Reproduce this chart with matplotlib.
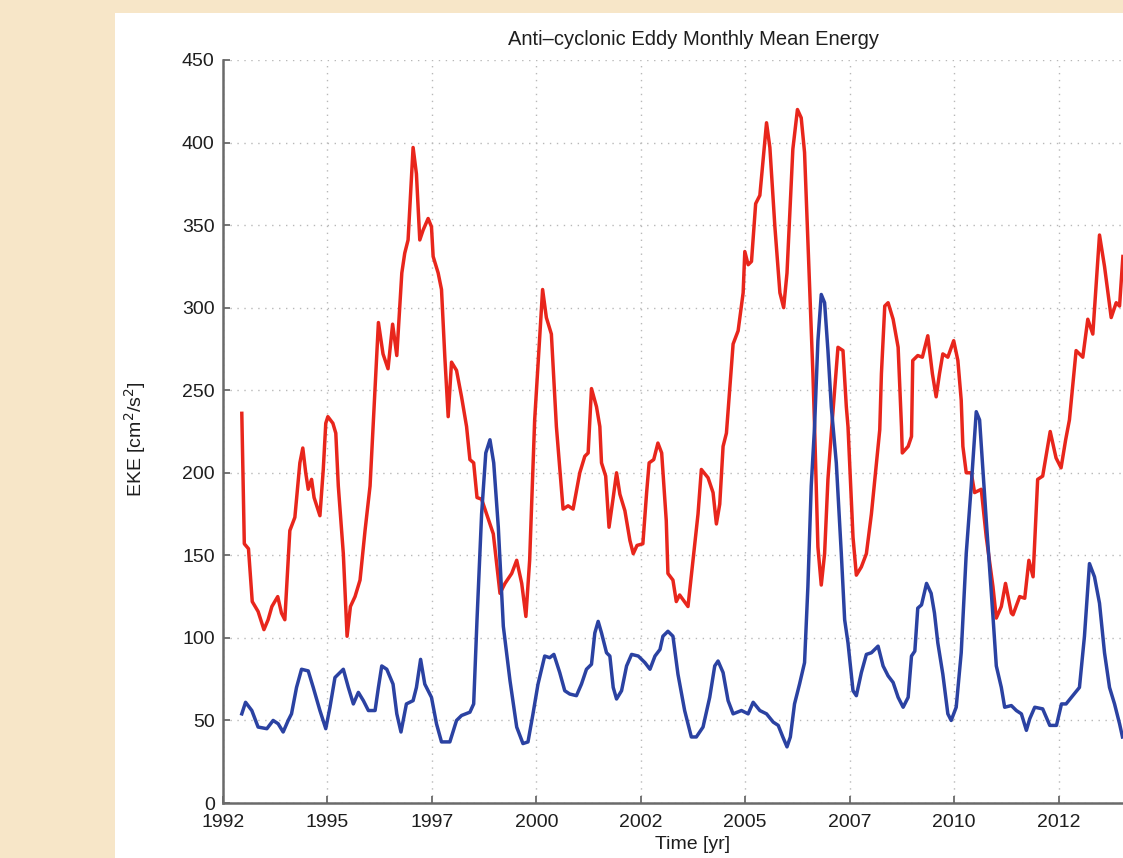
import numpy as np
import matplotlib
matplotlib.use("Agg")
import matplotlib.pyplot as plt
from matplotlib.patches import Rectangle

# anti-cyclonic eddy energy (year, EKE cm^2/s^2)
red_t = [1992.95, 1993.01, 1993.11, 1993.20, 1993.34, 1993.48, 1993.58, 1993.67, 1993.81, 1993.90,
         1993.98, 1994.10, 1994.22, 1994.34, 1994.41, 1994.48, 1994.54, 1994.62, 1994.68, 1994.82,
         1994.90, 1994.96, 1995.01, 1995.13, 1995.20, 1995.26, 1995.38, 1995.47, 1995.55, 1995.66,
         1995.78, 1995.90, 1996.02, 1996.10, 1996.22, 1996.33, 1996.45, 1996.56, 1996.66, 1996.78,
         1996.85, 1996.93, 1997.05, 1997.13, 1997.21, 1997.29, 1997.41, 1997.49, 1997.53, 1997.65,
         1997.73, 1997.81, 1997.89, 1997.97, 1998.09, 1998.21, 1998.33, 1998.41, 1998.50, 1998.58,
         1998.69, 1998.81, 1998.97, 1999.13, 1999.25, 1999.41, 1999.53, 1999.65, 1999.75, 1999.84,
         1999.96, 2000.15, 2000.24, 2000.36, 2000.48, 2000.64, 2000.76, 2000.88, 2001.04, 2001.16,
         2001.24, 2001.32, 2001.44, 2001.52, 2001.56, 2001.66, 2001.74, 2001.84, 2001.92, 2002.00,
         2002.12, 2002.24, 2002.32, 2002.41, 2002.55, 2002.64, 2002.70, 2002.81, 2002.91, 2003.00,
         2003.11, 2003.15, 2003.27, 2003.35, 2003.43, 2003.63, 2003.75, 2003.87, 2003.95, 2004.11,
         2004.23, 2004.31, 2004.39, 2004.47, 2004.55, 2004.71, 2004.83, 2004.95, 2004.99, 2005.07,
         2005.15, 2005.25, 2005.35, 2005.51, 2005.59, 2005.71, 2005.83, 2005.92, 2006.00, 2006.14,
         2006.25, 2006.34, 2006.42, 2006.50, 2006.62, 2006.66, 2006.74, 2006.82, 2006.90, 2006.98,
         2007.06, 2007.14, 2007.22, 2007.34, 2007.42, 2007.46, 2007.58, 2007.66, 2007.78, 2007.90,
         2008.02, 2008.14, 2008.22, 2008.26, 2008.34, 2008.42, 2008.54, 2008.66, 2008.74, 2008.76,
         2008.90, 2008.98, 2009.01, 2009.13, 2009.24, 2009.37, 2009.48, 2009.57, 2009.65, 2009.73,
         2009.85, 2009.99, 2010.09, 2010.17, 2010.21, 2010.29, 2010.41, 2010.49, 2010.65, 2010.77,
         2010.93, 2011.01, 2011.13, 2011.23, 2011.37, 2011.41, 2011.57, 2011.69, 2011.79, 2011.89,
         2012.00, 2012.12, 2012.30, 2012.44, 2012.56, 2012.67, 2012.76, 2012.92, 2013.08, 2013.20,
         2013.32, 2013.48, 2013.60, 2013.76, 2013.88, 2013.96, 2014.04]
red_v = [236, 157, 154, 122, 116, 105, 111, 119, 125, 115,
         111, 165, 173, 206, 215, 200, 190, 196, 185, 174,
         202, 230, 234, 230, 224, 192, 151, 101, 119, 125,
         135, 165, 192, 232, 291, 272, 263, 290, 271, 321,
         333, 341, 397, 381, 341, 347, 354, 349, 331, 321,
         311, 270, 234, 267, 262, 246, 228, 208, 206, 185,
         184, 175, 163, 127, 133, 139, 147, 133, 113, 147,
         232, 311, 294, 284, 228, 178, 180, 178, 200, 210,
         212, 251, 240, 228, 206, 198, 167, 185, 200, 187,
         177, 159, 151, 156, 157, 188, 206, 208, 218, 212,
         171, 139, 135, 122, 126, 119, 147, 175, 202, 197,
         188, 169, 181, 216, 224, 278, 286, 309, 334, 326,
         328, 363, 368, 412, 397, 349, 309, 300, 321, 396,
         420, 415, 394, 341, 260, 228, 155, 132, 151, 196,
         224, 250, 276, 274, 240, 228, 161, 138, 143, 151,
         175, 206, 226, 260, 301, 303, 293, 276, 228, 212,
         216, 222, 268, 271, 270, 283, 260, 246, 260, 272,
         270, 280, 268, 244, 216, 200, 200, 188, 190, 161,
         131, 112, 119, 133, 115, 114, 125, 124, 147, 137,
         196, 198, 225, 209, 203, 220, 232, 274, 270, 293,
         284, 344, 325, 294, 303, 301, 331]

blue_t = [1992.95, 1993.04, 1993.19, 1993.34, 1993.55, 1993.70, 1993.82, 1993.94, 1994.06, 1994.14,
          1994.26, 1994.38, 1994.54, 1994.66, 1994.82, 1994.96, 1995.06, 1995.18, 1995.38, 1995.50,
          1995.62, 1995.74, 1995.86, 1995.98, 1996.14, 1996.22, 1996.30, 1996.42, 1996.57, 1996.66,
          1996.76, 1996.89, 1997.05, 1997.13, 1997.23, 1997.33, 1997.49, 1997.61, 1997.73, 1997.93,
          1998.09, 1998.21, 1998.41, 1998.50, 1998.58, 1998.69, 1998.79, 1998.89, 1998.98, 1999.09,
          1999.21, 1999.37, 1999.53, 1999.68, 1999.80, 1999.92, 2000.04, 2000.20, 2000.32, 2000.42,
          2000.56, 2000.68, 2000.80, 2000.96, 2001.08, 2001.20, 2001.32, 2001.40, 2001.48, 2001.56,
          2001.68, 2001.76, 2001.84, 2001.92, 2002.04, 2002.16, 2002.28, 2002.44, 2002.60, 2002.72,
          2002.84, 2002.96, 2003.03, 2003.15, 2003.27, 2003.39, 2003.55, 2003.71, 2003.83, 2003.99,
          2004.15, 2004.27, 2004.35, 2004.47, 2004.59, 2004.71, 2004.91, 2005.07, 2005.19, 2005.35,
          2005.51, 2005.67, 2005.79, 2005.90, 2006.00, 2006.08, 2006.18, 2006.30, 2006.42, 2006.50,
          2006.58, 2006.66, 2006.74, 2006.82, 2006.90, 2006.98, 2007.06, 2007.18, 2007.30, 2007.38,
          2007.46, 2007.58, 2007.66, 2007.78, 2007.90, 2008.02, 2008.18, 2008.30, 2008.42, 2008.54,
          2008.66, 2008.78, 2008.90, 2008.98, 2009.06, 2009.13, 2009.22, 2009.34, 2009.45, 2009.53,
          2009.61, 2009.73, 2009.85, 2009.93, 2010.05, 2010.17, 2010.29, 2010.41, 2010.53, 2010.61,
          2010.77, 2010.93, 2011.01, 2011.13, 2011.21, 2011.37, 2011.49, 2011.61, 2011.73, 2011.81,
          2011.93, 2012.12, 2012.29, 2012.45, 2012.57, 2012.68, 2012.84, 2013.00, 2013.12, 2013.24,
          2013.36, 2013.48, 2013.60, 2013.72, 2013.84, 2013.96, 2014.03]
blue_v = [54, 61, 56, 46, 45, 50, 48, 43, 50, 54,
          70, 81, 80, 70, 56, 45, 58, 76, 81, 70,
          60, 67, 62, 56, 56, 70, 83, 81, 72, 54,
          43, 60, 62, 70, 87, 72, 64, 48, 37, 37,
          50, 53, 55, 60, 111, 175, 212, 220, 206, 167,
          107, 74, 46, 36, 37, 54, 72, 89, 88, 90,
          79, 68, 66, 65, 72, 81, 84, 103, 110, 103,
          91, 89, 70, 63, 68, 83, 90, 89, 85, 81,
          89, 93, 101, 104, 101, 78, 56, 40, 40, 46,
          64, 83, 86, 79, 62, 54, 56, 54, 61, 56,
          54, 49, 47, 40, 34, 40, 60, 72, 85, 131,
          192, 228, 280, 308, 303, 274, 240, 206, 151, 111,
          97, 68, 65, 79, 90, 91, 95, 83, 77, 73,
          64, 58, 64, 89, 92, 118, 120, 133, 127, 115,
          97, 78, 54, 50, 58, 91, 151, 192, 237, 232,
          171, 113, 83, 70, 58, 59, 56, 54, 44, 51,
          58, 57, 47, 47, 60, 60, 65, 70, 101, 145,
          137, 121, 91, 70, 60, 48, 40]

xtick_pos = [1992.5 + 2.5 * k for k in range(9)]
xtick_lab = ["1992", "1995", "1997", "2000", "2002", "2005", "2007", "2010", "2012"]
ytick_pos = list(range(0, 451, 50))

W, H = 1123, 858
FS = 14
plt.rcParams['font.family'] = ['Liberation Sans', 'DejaVu Sans']

fig = plt.figure(figsize=(W / 100, H / 100), dpi=100, facecolor='#f7e6c8')
# white panel behind the plot
panel = Rectangle((115 / W, 0), 1 - 115 / W, 1 - 13 / H,
                  transform=fig.transFigure, facecolor='white',
                  edgecolor='none', zorder=-10)
fig.add_artist(panel)

# axes runs past the right edge of the picture (picture is cropped)
ax = fig.add_axes([223 / W, (H - 803) / H, 940 / W, 743 / H])
ax.set_facecolor('none')
ax.set_zorder(5)

ax.plot(red_t, red_v, color='#e8261c', lw=2.5, solid_joinstyle='round')
ax.plot(blue_t, blue_v, color='#2b42a2', lw=2.5, solid_joinstyle='round')

ax.set_xlim(1992.5, 2015.0)
ax.set_ylim(0, 450)
ax.set_xticks(xtick_pos)
ax.set_xticklabels(xtick_lab)
ax.set_yticks(ytick_pos)

ax.grid(True, color='#b8b8b8', linestyle=(0, (1, 4)), lw=1.0)
ax.set_axisbelow(True)
for s in ['top', 'right']:
    ax.spines[s].set_visible(False)
for s in ['left', 'bottom']:
    ax.spines[s].set_color('#6a6a6a')
    ax.spines[s].set_linewidth(1.8)
ax.tick_params(direction='in', length=5, width=1.3, color='#6a6a6a',
               labelsize=FS, labelcolor='#1e1e1e')
ax.tick_params(axis='x', pad=8)
ax.tick_params(axis='y', pad=6)

ax.set_title('Anti\u2013cyclonic Eddy Monthly Mean Energy', fontsize=FS + 0.5,
             color='#1e1e1e', pad=11)
ax.set_xlabel('Time [yr]', fontsize=FS, color='#1e1e1e')
ax.set_ylabel('EKE [cm$^2$/s$^2$]', fontsize=FS, color='#1e1e1e')
ax.xaxis.set_label_coords(470 / 940, (803 - 836) / 743)
ax.yaxis.set_label_coords((148 - 223) / 940, 0.49)

fig.savefig('out.png', dpi=100, facecolor=fig.get_facecolor())
